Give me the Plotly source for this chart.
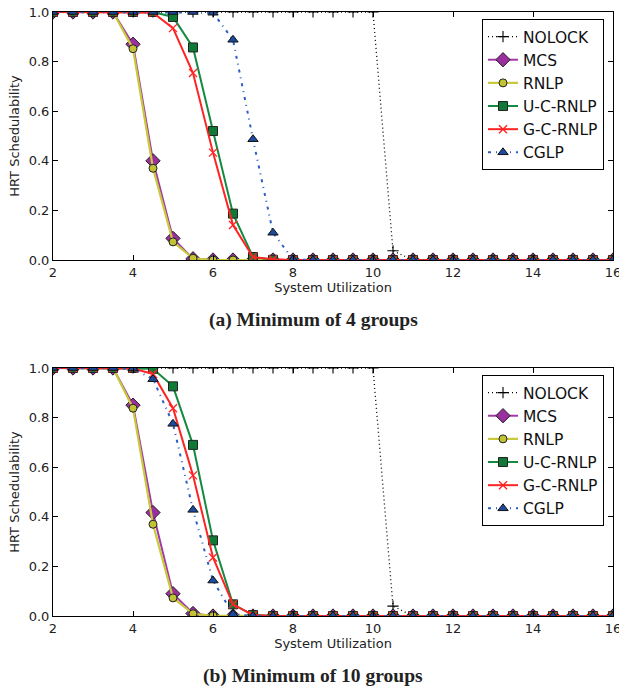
import plotly.graph_objects as go

# ---------------- data ----------------
util = [2, 2.5, 3, 3.5, 4, 4.5, 5, 5.5, 6, 6.5, 7, 7.5, 8, 8.5, 9, 9.5,
        10, 10.5, 11, 11.5, 12, 12.5, 13, 13.5, 14, 14.5, 15, 15.5, 16]

series_names = ["NOLOCK", "MCS", "RNLP", "U-C-RNLP", "G-C-RNLP", "CGLP"]

# (a) Minimum of 4 groups
nolock_a = [1, 1, 1, 1, 1, 1, 1, 1, 1, 1, 1, 1, 1, 1, 1, 1,
            1, 0.037, 0.0, 0, 0, 0, 0, 0, 0, 0, 0, 0, 0]
mcs_a = [1, 1, 1, 1, 0.87, 0.40, 0.087, 0.005, 0, 0, 0, 0, 0, 0, 0, 0,
         0, 0, 0, 0, 0, 0, 0, 0, 0, 0, 0, 0, 0]
rnlp_a = [1, 1, 1, 1, 0.852, 0.37, 0.073, 0.007, 0, 0, 0, 0, 0, 0, 0, 0,
          0, 0, 0, 0, 0, 0, 0, 0, 0, 0, 0, 0, 0]
ucrnlp_a = [1, 1, 1, 1, 1, 1, 0.98, 0.857, 0.52, 0.187, 0.012, 0.001, 0, 0, 0, 0,
            0, 0, 0, 0, 0, 0, 0, 0, 0, 0, 0, 0, 0]
gcrnlp_a = [1, 1, 1, 1, 1, 0.997, 0.935, 0.754, 0.433, 0.141, 0.012, 0.003, 0, 0, 0, 0,
            0, 0, 0, 0, 0, 0, 0, 0, 0, 0, 0, 0, 0]
cglp_a = [1, 1, 1, 1, 1, 1, 1, 1, 0.997, 0.888, 0.487, 0.11, 0.002, 0, 0, 0,
          0, 0, 0, 0, 0, 0, 0, 0, 0, 0, 0, 0, 0]

# (b) Minimum of 10 groups
nolock_b = [1, 1, 1, 1, 1, 1, 1, 1, 1, 1, 1, 1, 1, 1, 1, 1,
            1, 0.04, 0.0, 0, 0, 0, 0, 0, 0, 0, 0, 0, 0]
mcs_b = [1, 1, 1, 1, 0.85, 0.417, 0.09, 0.01, 0, 0, 0, 0, 0, 0, 0, 0,
         0, 0, 0, 0, 0, 0, 0, 0, 0, 0, 0, 0, 0]
rnlp_b = [1, 1, 1, 1, 0.838, 0.37, 0.073, 0.009, 0.001, 0, 0, 0, 0, 0, 0, 0,
          0, 0, 0, 0, 0, 0, 0, 0, 0, 0, 0, 0, 0]
ucrnlp_b = [1, 1, 1, 1, 1, 0.997, 0.926, 0.69, 0.305, 0.047, 0.004, 0, 0, 0, 0, 0,
            0, 0, 0, 0, 0, 0, 0, 0, 0, 0, 0, 0, 0]
gcrnlp_b = [1, 1, 1, 1, 0.998, 0.976, 0.838, 0.567, 0.236, 0.047, 0.004, 0, 0, 0, 0, 0,
            0, 0, 0, 0, 0, 0, 0, 0, 0, 0, 0, 0, 0]
cglp_b = [1, 1, 1, 1, 0.998, 0.955, 0.775, 0.428, 0.143, 0.007, 0, 0, 0, 0, 0, 0,
          0, 0, 0, 0, 0, 0, 0, 0, 0, 0, 0, 0, 0]

x_ticks = [2, 4, 6, 8, 10, 12, 14, 16]
y_ticks = [0.0, 0.2, 0.4, 0.6, 0.8, 1.0]
y_tick_labels = ["0.0", "0.2", "0.4", "0.6", "0.8", "1.0"]

captions = ["(a) Minimum of 4 groups", "(b) Minimum of 10 groups"]

# ---------------- styles ----------------
styles = {
    "NOLOCK": dict(line=dict(color="black", width=1.3, dash="1px,3px"),
                   marker=dict(symbol="cross-thin", size=8, color="black",
                               line=dict(color="black", width=1.1))),
    "MCS": dict(line=dict(color="#a23aa6", width=2),
                marker=dict(symbol="diamond", size=11, color="#9b2f9f",
                            line=dict(color="#222222", width=1))),
    "RNLP": dict(line=dict(color="#c9c93c", width=2.2),
                 marker=dict(symbol="circle", size=8, color="#c2c237",
                             line=dict(color="#222222", width=1))),
    "U-C-RNLP": dict(line=dict(color="#138a40", width=2),
                     marker=dict(symbol="square", size=9, color="#0e7a36",
                                 line=dict(color="#222222", width=1))),
    "G-C-RNLP": dict(line=dict(color="#ff2424", width=2),
                     marker=dict(symbol="x-thin", size=8, color="#ff2424",
                                 line=dict(color="#ff2424", width=1.4))),
    "CGLP": dict(line=dict(color="#2c5fc4", width=2, dash="3px,5px,1px,5px"),
                 marker=dict(symbol="triangle-up", size=9, color="#1d4a9c",
                             line=dict(color="#111111", width=1))),
}

panels = [
    [nolock_a, mcs_a, rnlp_a, ucrnlp_a, gcrnlp_a, cglp_a],
    [nolock_b, mcs_b, rnlp_b, ucrnlp_b, gcrnlp_b, cglp_b],
]

W, H = 619, 692
x0, x1 = 53, 613
panel_px = [(12, 260), (368, 616)]

fig = go.Figure()
for p, data in enumerate(panels):
    xa = "x" if p == 0 else "x2"
    ya = "y" if p == 0 else "y2"
    leg = "legend" if p == 0 else "legend2"
    for name, vals in zip(series_names, data):
        st = styles[name]
        fig.add_trace(go.Scatter(
            x=util, y=vals, name=name, mode="lines+markers",
            line=st["line"], marker=st["marker"], cliponaxis=True,
            xaxis=xa, yaxis=ya, legend=leg, showlegend=True,
        ))

axis_font = dict(family="DejaVu Sans", size=13, color="#222222")
title_font = dict(family="DejaVu Sans", size=13, color="#222222")

def xaxis_cfg(anchor):
    return dict(
        domain=[x0 / W, x1 / W], anchor=anchor, range=[2, 16],
        tickvals=x_ticks, ticktext=[str(v) for v in x_ticks],
        ticks="inside", ticklen=5, tickcolor="black", tickwidth=1,
        showline=True, linecolor="black", linewidth=1, mirror="allticks",
        showgrid=False, zeroline=False, tickfont=axis_font,
        automargin=False, ticklabeloverflow="allow",
        title=dict(text="System Utilization", font=title_font, standoff=4),
    )

def yaxis_cfg(anchor, top, bottom):
    return dict(
        domain=[1 - bottom / H, 1 - top / H], anchor=anchor, range=[0, 1],
        tickvals=y_ticks, ticktext=y_tick_labels,
        ticks="inside", ticklen=5, tickcolor="black", tickwidth=1,
        showline=True, linecolor="black", linewidth=1, mirror="allticks",
        showgrid=False, zeroline=False, tickfont=axis_font,
        automargin=False, ticklabeloverflow="allow",
        title=dict(text="HRT Schedulability", font=title_font, standoff=6),
    )

legend_common = dict(
    xanchor="right", yanchor="top", bgcolor="white",
    bordercolor="black", borderwidth=1,
    font=dict(family="DejaVu Sans", size=15.5, color="#111111"),
    tracegroupgap=0, itemwidth=30,
)

fig.update_layout(
    width=W, height=H,
    margin=dict(l=0, r=0, t=0, b=0, autoexpand=False),
    paper_bgcolor="white", plot_bgcolor="white",
    xaxis=xaxis_cfg("y"),
    yaxis=yaxis_cfg("x", *panel_px[0]),
    xaxis2=xaxis_cfg("y2"),
    yaxis2=yaxis_cfg("x2", *panel_px[1]),
    legend=dict(x=604 / W, y=1 - 19 / H, **legend_common),
    legend2=dict(x=604 / W, y=1 - 375 / H, **legend_common),
    annotations=[
        dict(text="<b>%s</b>" % captions[0], x=313 / W, y=1 - 320 / H,
             xref="paper", yref="paper", showarrow=False,
             xanchor="center", yanchor="middle",
             font=dict(family="Liberation Serif", size=19.5, color="#222222")),
        dict(text="<b>%s</b>" % captions[1], x=313 / W, y=1 - 676 / H,
             xref="paper", yref="paper", showarrow=False,
             xanchor="center", yanchor="middle",
             font=dict(family="Liberation Serif", size=19.5, color="#222222")),
    ],
    showlegend=True,
)

fig.write_html(
    "out.html",
    config={"displayModeBar": False},
    post_script="document.body.style.margin='0';document.body.style.overflow='hidden';",
)
